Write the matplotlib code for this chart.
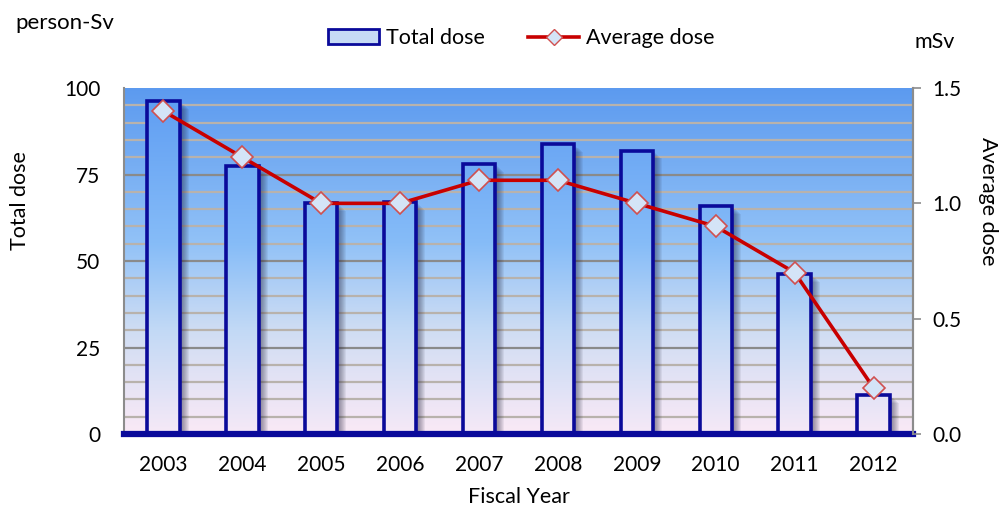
import numpy as np
import matplotlib.pyplot as plt
from matplotlib.colors import LinearSegmentedColormap
from matplotlib.patches import Rectangle, Patch
from matplotlib.lines import Line2D

plt.rcParams['font.family'] = ['Lato', 'DejaVu Sans']

years = ['2003', '2004', '2005', '2006', '2007', '2008', '2009', '2010', '2011', '2012']
total_dose = [96.2, 77.6, 66.8, 67.1, 78.1, 83.8, 81.9, 65.9, 46.2, 11.3]
avg_dose = [1.4, 1.2, 1.0, 1.0, 1.1, 1.1, 1.0, 0.9, 0.7, 0.2]

navy = '#0A0A9A'
bg_cmap = LinearSegmentedColormap.from_list(
    'bg', [(0.0, '#FAE9F6'), (0.3, '#CFDDF3'), (0.55, '#92C2F7'), (1.0, '#5C9AEF')])
bar_cmap = LinearSegmentedColormap.from_list(
    'bars', [(0.0, '#F6E9F7'), (0.3, '#C2D9F5'), (0.55, '#86BCF8'), (1.0, '#5D9CF2')])

fig = plt.figure(figsize=(10, 5.09), dpi=100)
ax = fig.add_axes([0.124, 0.1473, 0.789, 0.6798])
x = np.arange(len(years))
ax.set_xlim(-0.5, len(years) - 0.5)
ax.set_ylim(0, 100)

# gradient plot area
grad = np.linspace(0, 1, 256).reshape(-1, 1)
ax.imshow(grad, cmap=bg_cmap, origin='lower', aspect='auto',
          extent=[-0.5, len(years) - 0.5, 0, 100], zorder=0)

# horizontal grid: light every 5, darker every 25
for v in range(5, 100, 5):
    c = '#8A8A8A' if v % 25 == 0 else '#B8B2AC'
    ax.axhline(v, color=c, lw=1.6, zorder=1)

w = 0.41
px = 10 / 789  # one pixel in x data units
for xi, h in zip(x, total_dose):
    # soft shadow to the right of each bar
    for k in range(1, 10):
        ax.add_patch(Rectangle((xi - w / 2 + k * px, 0), w, h - k * 0.25,
                               facecolor='#20203A', alpha=0.07, lw=0, zorder=2))
    img = ax.imshow(grad, cmap=bar_cmap, origin='lower', aspect='auto',
                    extent=[xi - w / 2, xi + w / 2, 0, 100], zorder=3)
    rect = Rectangle((xi - w / 2, 0), w, h, facecolor='none', edgecolor=navy,
                     lw=2.6, zorder=4)
    ax.add_patch(rect)
    img.set_clip_path(rect)

ax.set_xlim(-0.5, len(years) - 0.5)
ax.set_ylim(0, 100)
ax.set_xticks(x)
ax.set_xticklabels(years)
ax.set_yticks([0, 25, 50, 75, 100])
ax.tick_params(axis='both', length=0, labelsize=15)
ax.tick_params(axis='y', pad=17)
ax.tick_params(axis='x', pad=15)
for s in ['left', 'top', 'right']:
    ax.spines[s].set_color('#8C8C8C')
    ax.spines[s].set_linewidth(1.5)
ax.spines['top'].set_visible(False)
ax.spines['bottom'].set_color(navy)
ax.spines['bottom'].set_linewidth(4.5)
ax.spines['bottom'].set_zorder(6)
ax.set_xlabel('Fiscal Year', fontsize=15.5, labelpad=9)

ax2 = ax.twinx()
ax2.set_ylim(0, 1.5)
ax2.plot(x, avg_dose, color='#C80000', lw=2.6, marker='D', markersize=11,
         markerfacecolor='#D4E4F7', markeredgecolor='#D05050', markeredgewidth=1.2,
         zorder=5)
ax2.set_yticks([0.0, 0.5, 1.0, 1.5])
ax2.set_yticklabels(['0.0', '0.5', '1.0', '1.5'])
ax2.tick_params(axis='y', length=6, width=1.2, color='#8C8C8C', labelsize=15, pad=8)
ax2.spines['right'].set_color('#8C8C8C')
ax2.spines['right'].set_linewidth(1.5)
ax2.spines['left'].set_visible(False)
ax2.spines['top'].set_visible(False)
ax2.spines['bottom'].set_visible(False)

# axis titles and units
fig.text(0.02, 0.605, 'Total dose', fontsize=15.5, rotation=90, ha='center', va='center')
fig.text(0.988, 0.605, 'Average dose', fontsize=15.5, rotation=-90, ha='center', va='center')
fig.text(0.015, 0.955, 'person-Sv', fontsize=16, ha='left', va='center')
fig.text(0.915, 0.917, 'mSv', fontsize=15.5, ha='left', va='center')

handles = [Patch(facecolor='#C6DAF5', edgecolor=navy, lw=2),
           Line2D([0], [0], color='#C80000', lw=2.6, marker='D', markersize=8,
                  markerfacecolor='#D4E4F7', markeredgecolor='#D05050')]
fig.legend(handles, ['Total dose', 'Average dose'], loc='center',
           bbox_to_anchor=(0.521, 0.925), ncol=2, frameon=False, fontsize=15.5,
           handlelength=2.4, columnspacing=2.0, handletextpad=0.3)

fig.savefig('out.png', dpi=100)
